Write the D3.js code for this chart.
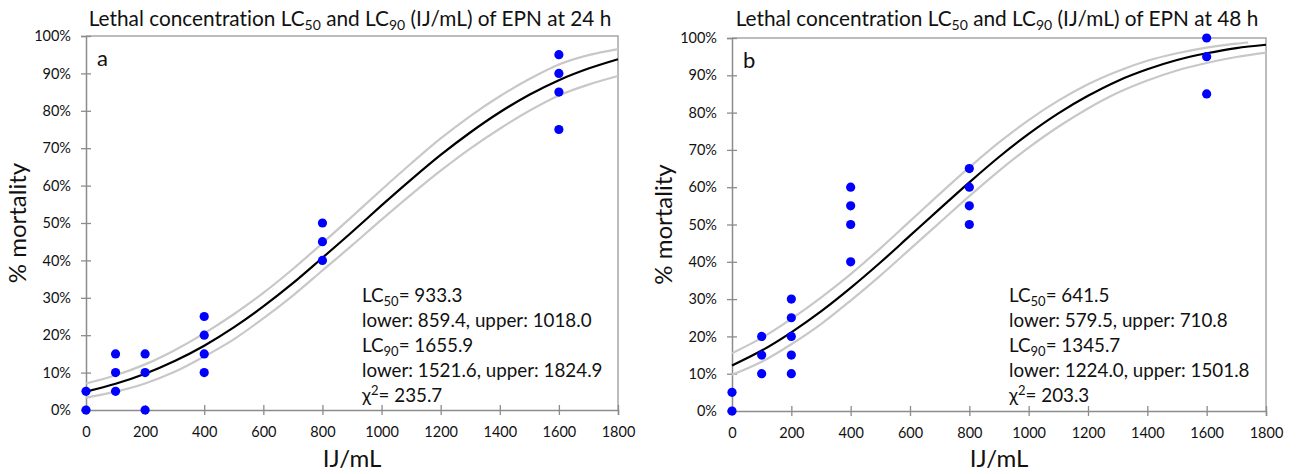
<!DOCTYPE html>
<html><head><meta charset="utf-8">
<script src="https://cdn.jsdelivr.net/npm/d3@7"></script>
<style>
html,body{margin:0;padding:0;background:#fff;}
svg{display:block;}
text{font-family:Lato,"Open Sans",sans-serif;fill:#111;font-variant-ligatures:none;font-feature-settings:"liga" 0,"clig" 0;}
</style></head>
<body>
<svg id="chart" width="1301" height="474"></svg>
<script>
// ---------- data ----------
const xTickValues = [0,200,400,600,800,1000,1200,1400,1600,1800];
const yTickValues = [0,10,20,30,40,50,60,70,80,90,100];

// observed points, panel a (24 h)
const doseA = [0,0,100,100,100,200,200,200,400,400,400,400,800,800,800,1600,1600,1600,1600];
const mortA = [0,5,15,10,5,15,10,0,25,20,15,10,50,45,40,95,90,85,75];
// observed points, panel b (48 h)
const doseB = [0,0,100,100,100,200,200,200,200,200,400,400,400,400,800,800,800,800,1600,1600,1600];
const mortB = [0,5,20,15,10,30,25,20,15,10,60,55,50,40,65,60,55,50,100,95,85];

// fitted curve and confidence limits
const curveDose = [0,100,200,300,400,500,600,700,800,900,1000,1100,1200,1300,1400,1500,1600,1700,1800];
const fitA   = [4.9,7.0,9.7,13.1,17.2,22.1,27.7,33.9,40.7,47.6,54.7,61.6,68.2,74.2,79.6,84.3,88.2,91.3,93.8];
const upperA = [7.1,9.3,12.2,16.0,20.5,25.6,31.3,37.7,44.6,51.7,58.9,65.9,72.6,78.6,83.9,88.5,92.4,94.9,96.5];
const lowerA = [3.3,4.9,7.1,10.2,14.3,18.9,24.5,30.6,37.3,44.0,50.9,57.6,64.0,69.9,75.2,80.0,84.1,87.0,89.3];

const fitB   = [12.2,16.2,21.1,26.7,33.0,39.8,47.0,54.2,61.3,68.1,74.3,79.8,84.5,88.5,91.6,94.1,95.9,97.3,98.2];
const upperDoseB = [0,100,200,300,400,500,600,700,800,900,1000,1100,1200,1300,1400,1500,1600,1700,1740];
const upperB = [15.5,19.6,24.7,30.4,36.7,43.6,50.9,58.2,65.3,72.0,78.0,83.2,87.6,91.1,93.9,95.9,97.4,98.5,98.8];
const lowerB = [9.7,13.2,17.9,23.3,29.6,36.3,43.4,50.5,57.6,64.4,70.6,76.2,81.1,85.3,88.6,91.3,93.3,94.9,96.1];

const titles = ["24 h","48 h"];
const panelLetters = ["a","b"];
const statsA = [["LC","50","= 933.3"],["lower: 859.4, upper: 1018.0"],["LC","90","= 1655.9"],["lower: 1521.6, upper: 1824.9"],["χ","2","= 235.7"]];
const statsB = [["LC","50","= 641.5"],["lower: 579.5, upper: 710.8"],["LC","90","= 1345.7"],["lower: 1224.0, upper: 1501.8"],["χ","2","= 203.3"]];

// ---------- drawing ----------
const svg = d3.select("#chart");
const axisColor = "#8c8c8c";

const panels = [
  {left:86, right:618, top:36, bottom:410, dose:doseA, mort:mortA, fit:fitA, up:upperA, upDose:curveDose, lo:lowerA, stats:statsA, title:titles[0], letter:panelLetters[0], statsX:362},
  {left:732, right:1266, top:38, bottom:411, dose:doseB, mort:mortB, fit:fitB, up:upperB, upDose:upperDoseB, lo:lowerB, stats:statsB, title:titles[1], letter:panelLetters[1], statsX:1009}
];

panels.forEach(p => {
  const g = svg.append("g");
  const x = d3.scaleLinear().domain([0,1800]).range([p.left,p.right]);
  const y = d3.scaleLinear().domain([0,100]).range([p.bottom,p.top]);

  // plot frame (top and right)
  g.append("path")
    .attr("d", `M${p.left},${p.top}H${p.right}V${p.bottom}`)
    .attr("fill","none").attr("stroke","#a6a6a6").attr("stroke-width",1.5);

  // y axis
  const ya = g.append("g").attr("transform",`translate(${p.left},0)`)
    .call(d3.axisLeft(y).tickValues(yTickValues).tickFormat(d=>d+"%").tickSize(5).tickPadding(10));
  ya.select(".domain").attr("stroke",axisColor).attr("stroke-width",1.5);
  ya.selectAll(".tick line").attr("stroke",axisColor).attr("stroke-width",1.3).attr("x2",5).attr("x1",-5);
  ya.selectAll(".tick text").attr("font-size",14.5).attr("fill","#222").attr("font-family","Lato,sans-serif");

  // x axis
  const xa = g.append("g").attr("transform",`translate(0,${p.bottom})`)
    .call(d3.axisBottom(x).tickValues(xTickValues).tickFormat(d3.format("d")).tickSize(5).tickPadding(12));
  xa.select(".domain").attr("stroke",axisColor).attr("stroke-width",1.5);
  xa.selectAll(".tick line").attr("stroke",axisColor).attr("stroke-width",1.3).attr("y1",-5).attr("y2",5);
  xa.selectAll(".tick text").attr("font-size",14.5).attr("fill","#222").attr("font-family","Lato,sans-serif");

  // curves
  const line = d3.line().curve(d3.curveMonotoneX);
  g.append("path").attr("d", line(p.upDose.map((d,i)=>[x(d),y(p.up[i])])))
    .attr("fill","none").attr("stroke","#c8c8c8").attr("stroke-width",2.2);
  g.append("path").attr("d", line(curveDose.map((d,i)=>[x(d),y(p.lo[i])])))
    .attr("fill","none").attr("stroke","#c8c8c8").attr("stroke-width",2.2);
  g.append("path").attr("d", line(curveDose.map((d,i)=>[x(d),y(p.fit[i])])))
    .attr("fill","none").attr("stroke","#000").attr("stroke-width",2.2);

  // points
  g.selectAll("circle.pt").data(p.dose.map((d,i)=>[d,p.mort[i]])).join("circle")
    .attr("class","pt").attr("cx",d=>x(d[0])).attr("cy",d=>y(d[1])).attr("r",4.6).attr("fill","#0000ff");

  // title
  const t = g.append("text").attr("x",(p.left+p.right)/2 - 2).attr("y",26)
    .attr("text-anchor","middle").attr("font-size",20.8).attr("fill","#111");
  t.append("tspan").text("Lethal concentration LC");
  t.append("tspan").attr("font-size",14).attr("dy",4).text("50");
  t.append("tspan").attr("dy",-4).text(" and LC");
  t.append("tspan").attr("font-size",14).attr("dy",4).text("90");
  t.append("tspan").attr("dy",-4).text(" (IJ/mL) of EPN at " + p.title);

  // panel letter
  g.append("text").attr("x",p.left+11).attr("y",p.top+30).attr("font-size",22).attr("fill","#111").text(p.letter);

  // stats
  p.stats.forEach((s,i) => {
    const tt = g.append("text").attr("x",p.statsX).attr("y",302 + i*25).attr("font-size",18.8).attr("fill","#111");
    if (s.length === 1) { tt.text(s[0]); }
    else {
      tt.append("tspan").text(s[0]);
      const sup = s[0] === "χ";
      tt.append("tspan").attr("font-size",13).attr("dy", sup ? -7 : 4).text(s[1]);
      tt.append("tspan").attr("dy", sup ? 7 : -4).text(s[2]);
    }
  });

  // axis titles
  g.append("text").attr("x",(p.left+p.right)/2).attr("y",467).attr("text-anchor","middle")
    .attr("font-size",24).attr("fill","#111").text("IJ/mL");
  g.append("text").attr("transform",`translate(${p.left-60},${(p.top+p.bottom)/2}) rotate(-90)`)
    .attr("text-anchor","middle").attr("font-size",24).attr("fill","#111").text("% mortality");
});
</script>
</body></html>
